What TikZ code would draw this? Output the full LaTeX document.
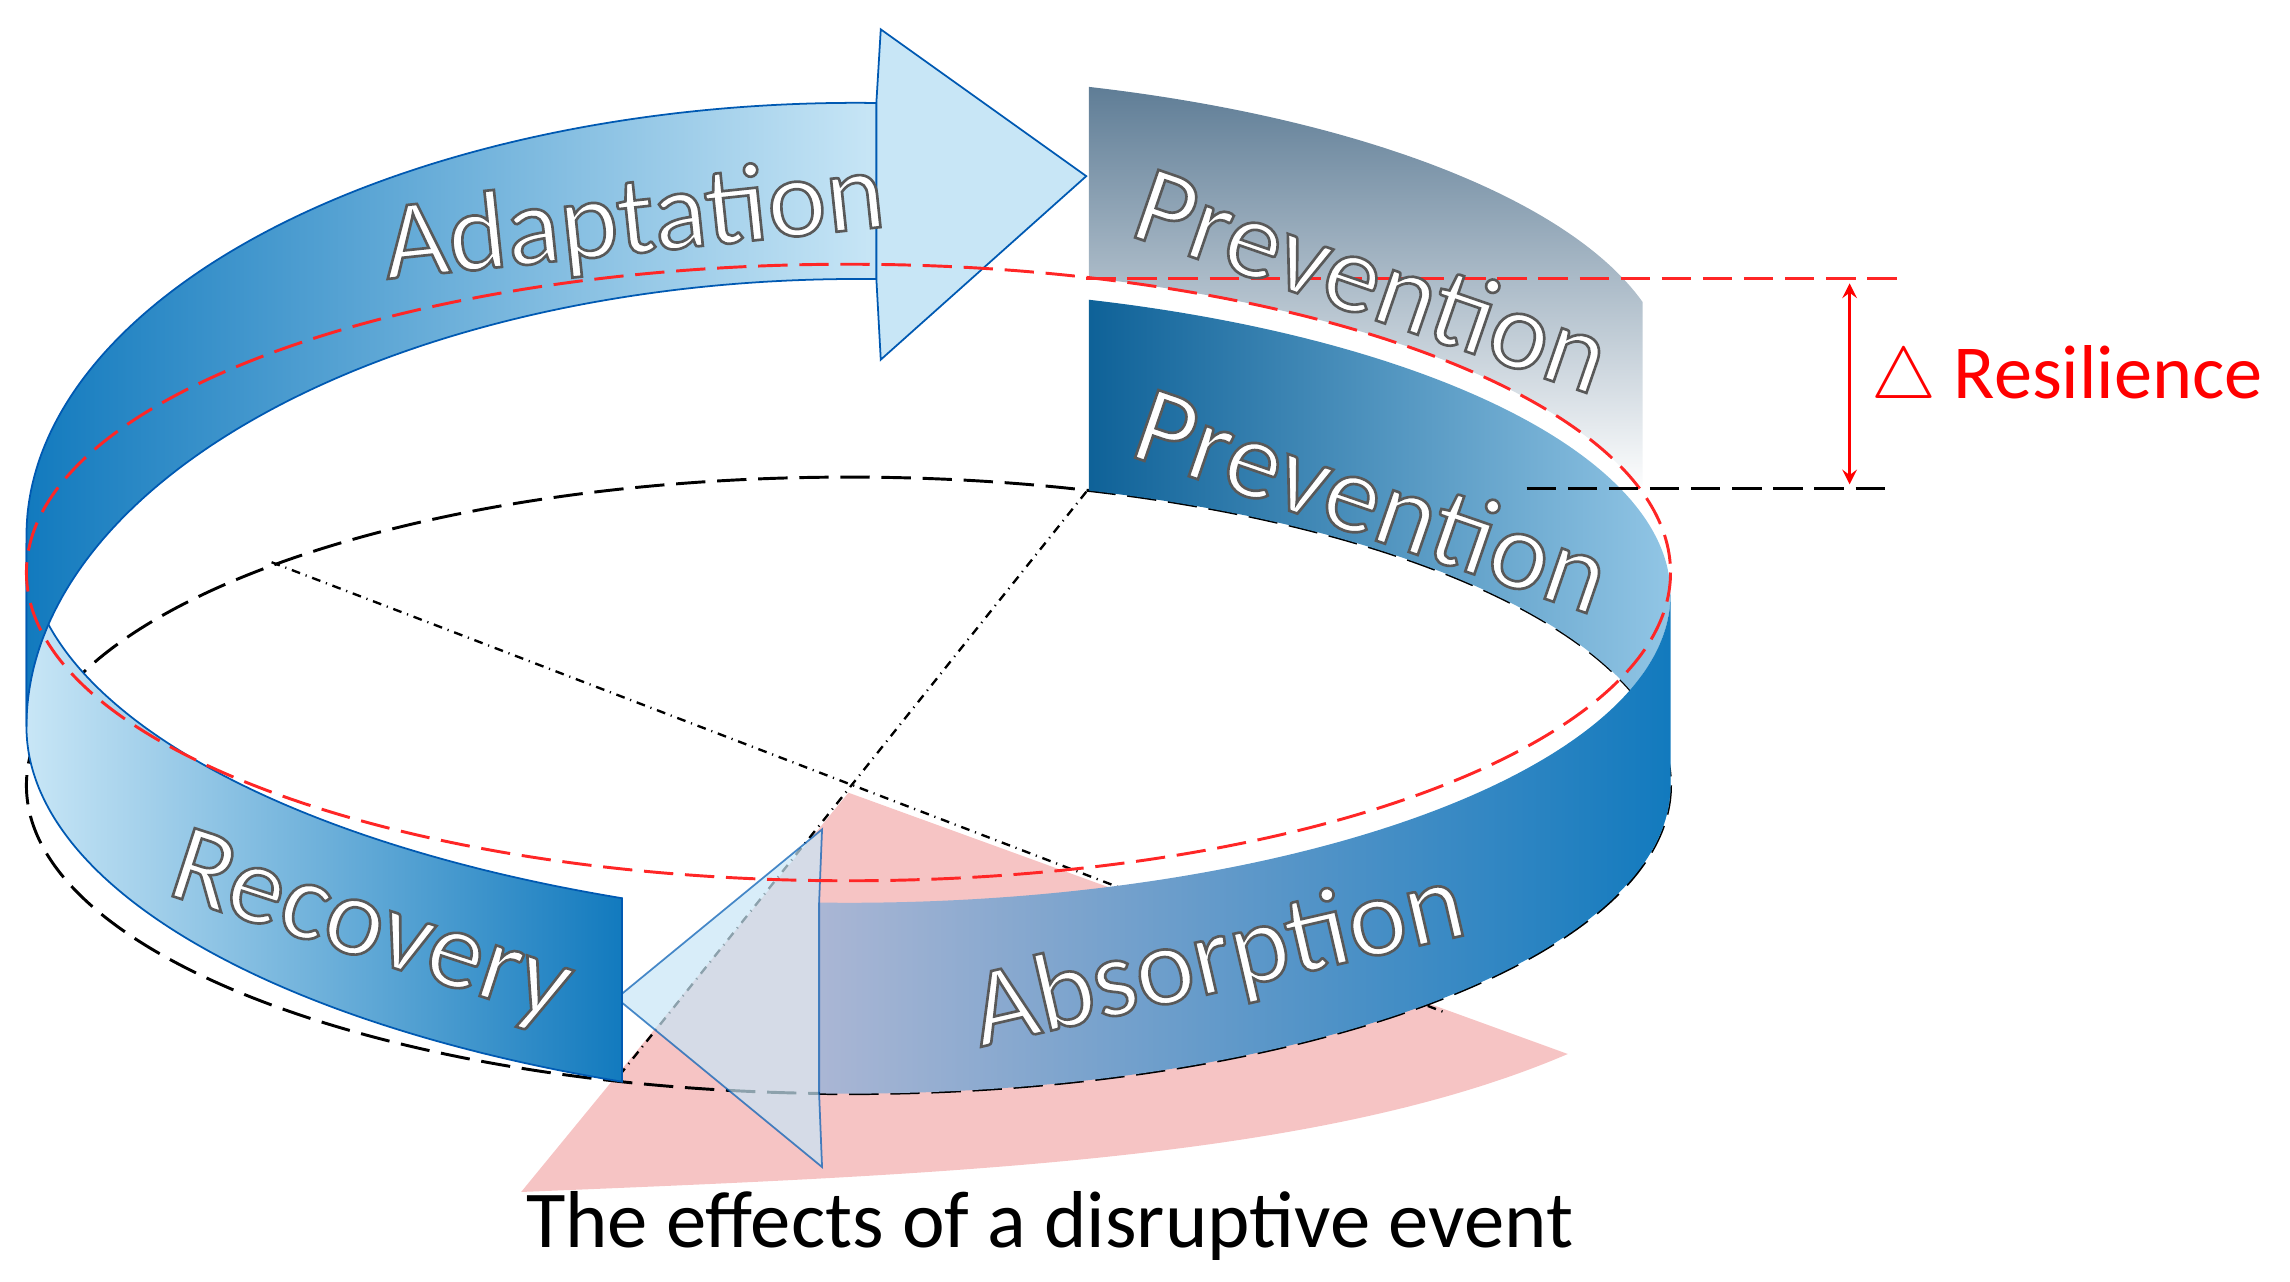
\documentclass[tikz,border=0pt]{standalone}
\usepackage{fontspec}
\setmainfont{Carlito}
\newcommand{\outl}[1]{\special{pdf:literal direct 2 Tr 0.9 w 0.35 0.35 0.35 RG}#1\special{pdf:literal direct 0 Tr}}
\begin{document}
\begin{tikzpicture}[x=0.5pt,y=-0.5pt,
  lbl/.style={font=\fontsize{38}{42}\selectfont,text=white,inner sep=0},
  edge/.style={draw=blue!50!cyan!70!black,line width=0.6pt},
  samp/.style={samples=60,smooth}]
\definecolor{bdark}{RGB}{18,122,190}
\definecolor{blight}{RGB}{200,230,246}
\definecolor{pgrey}{RGB}{95,125,150}
\definecolor{absl}{RGB}{170,182,212}
\definecolor{pinkf}{RGB}{246,196,196}
\useasboundingbox (0,0) rectangle (1560,873);
% pink sector
\fill[pinkf] (578,540) -- (355,812) .. controls (650,800) and (900,790) .. (1068,718) -- cycle;
% dash-dot lines
\draw[dash dot,line width=0.8pt] (185,383) -- (985,690);
\draw[dash dot,line width=0.8pt] (740,335) -- (420,735);
% black ellipse
\draw[dashed,dash pattern=on 10pt off 4pt,line width=1pt] (578,535) ellipse [x radius=560,y radius=210];
% upper Prevention
\shade[left color=pgrey,right color=white,shading angle=0] plot[samp,domain=287:345] ({578+560*cos(\x)},{535+210*sin(\x)-275}) -- plot[samp,domain=345:287] ({578+560*cos(\x)},{535+210*sin(\x)-145}) -- cycle;
% lower Prevention
\shade[left color=bdark!80!black,right color=blight!70!bdark] plot[samp,domain=287:375] ({578+560*cos(\x)},{535+210*sin(\x)-130}) -- plot[samp,domain=375:287] ({578+560*cos(\x)},{535+210*sin(\x)}) -- cycle;
% Absorption
\shade[left color=absl,right color=bdark] plot[samp,domain=360:452] ({578+560*cos(\x)},{535+210*sin(\x)-130}) -- plot[samp,domain=452:360] ({578+560*cos(\x)},{535+210*sin(\x)}) -- cycle;
\fill[blight,opacity=0.7,edge] (558,615) -- (560,565) -- (420,680) -- (560,795) -- (558,745) -- cycle;
% Recovery
\shade[left color=blight,right color=bdark,edge] plot[samp,domain=106:180] ({578+560*cos(\x)},{535+210*sin(\x)-125-40*(\x-106)/74}) -- plot[samp,domain=180:106] ({578+560*cos(\x)},{535+210*sin(\x)-40*(\x-106)/74}) -- cycle;
% Adaptation
\shade[left color=bdark,right color=blight,edge] plot[samp,domain=180:272] ({578+560*cos(\x)},{535+210*sin(\x)-110-(60+85*sin((\x-180)*90/92))}) -- plot[samp,domain=272:180] ({578+560*cos(\x)},{535+210*sin(\x)-(40+95*sin((\x-180)*90/92))}) -- cycle;
\fill[blight,edge] (597,70) -- (600,20) -- (740,120) -- (600,245) -- (597,190) -- cycle;
% red ellipse
\draw[red!85!white,dashed,dash pattern=on 10pt off 4pt,line width=1pt] (578,390) ellipse [x radius=560,y radius=210];
% resilience
\coordinate (rs) at (740,190); \coordinate (rt) at (1295,190);
\coordinate (bs) at (1040,333); \coordinate (bt) at (1290,333);
\draw[red!85!white,dashed,dash pattern=on 10pt off 4pt,line width=1pt] (rs) -- (rt);
\draw[dashed,dash pattern=on 10pt off 4pt,line width=1pt] (bs) -- (bt);
\coordinate (a1) at (1260,193); \coordinate (a2) at (1260,330);
\draw[red,<->,>=stealth,line width=1.2pt] (a1) -- (a2);
\node[text=red,font=\fontsize{26}{30}\selectfont,anchor=west] (res) at (1268,258) {$\bigtriangleup$ Resilience};
% labels
\node[lbl,rotate=6] (ad) at (432,152) {\outl{Adaptation}};
\node[lbl,rotate=-19] (p1) at (935,190) {\outl{Prevention}};
\node[lbl,rotate=-19] (p2) at (935,340) {\outl{Prevention}};
\node[lbl,rotate=13] (ab) at (830,655) {\outl{Absorption}};
\node[lbl,rotate=-18] (rc) at (252,635) {\outl{Recovery}};
\node[font=\fontsize{27.5}{32}\selectfont] (ev) at (715,835) {The effects of a disruptive event};
\end{tikzpicture}
\end{document}
